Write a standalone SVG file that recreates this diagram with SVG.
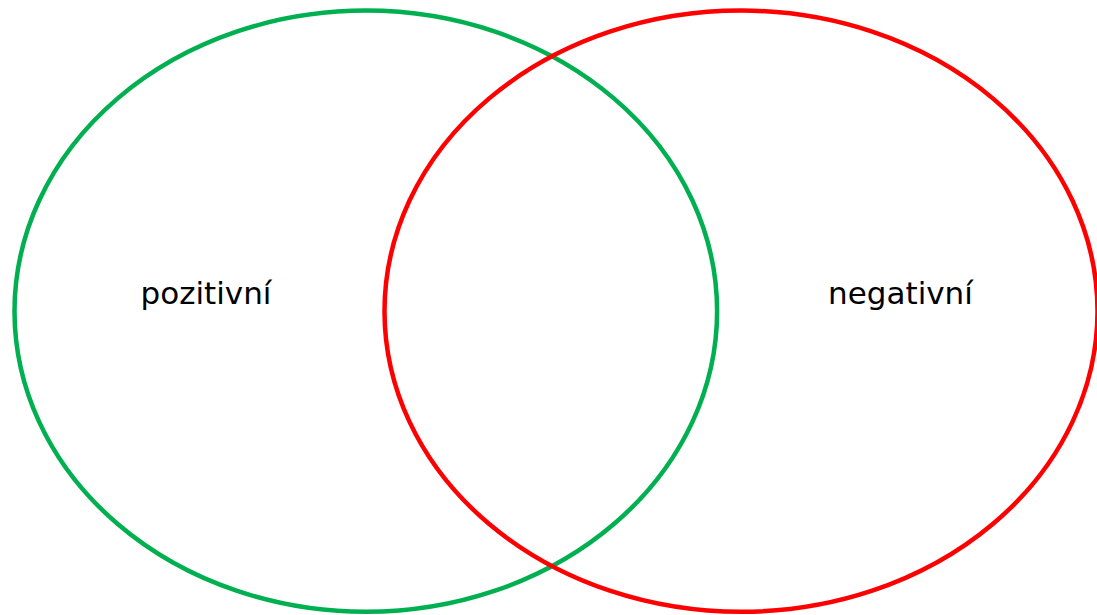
<svg xmlns="http://www.w3.org/2000/svg" width="1097" height="615" viewBox="0 0 1097 615">
<style>
.set{fill:none;stroke-width:4.5}
.lbl{font-family:"DejaVu Sans",Verdana,sans-serif;font-size:31px;fill:#000;text-anchor:middle}
</style>
<rect width="1097" height="615" fill="#fff"/>
<g id="pozitivni">
<ellipse class="set" cx="365.8" cy="311.2" rx="351.3" ry="300.6" stroke="#00b050"/>
<text class="lbl" x="206" y="304">pozitivní</text>
</g>
<g id="negativni">
<ellipse class="set" cx="741" cy="311.2" rx="356.5" ry="300.6" stroke="#ff0000"/>
<text class="lbl" x="900.5" y="304">negativní</text>
</g>
<g id="connectors"/>
</svg>
